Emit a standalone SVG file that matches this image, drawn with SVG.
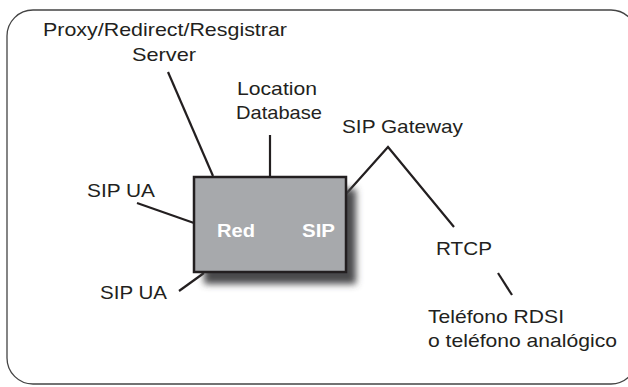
<svg xmlns="http://www.w3.org/2000/svg" width="628" height="387" viewBox="0 0 628 387">
<style>
.lbl{font-family:"Liberation Sans",Arial,sans-serif;font-size:19px;fill:#231f20}
.in{font-family:"Liberation Sans",Arial,sans-serif;font-size:18px;font-weight:bold;fill:#ffffff}
.ln{stroke:#231f20;stroke-width:2.2;fill:none;stroke-linecap:butt}
</style>
<defs>
<filter id="sh" x="-20%" y="-20%" width="140%" height="140%">
<feGaussianBlur stdDeviation="3.5"/>
</filter>
</defs>
<rect x="0" y="0" width="628" height="387" fill="#ffffff"/>
<rect id="frame" x="7" y="10" width="630" height="374" rx="26" ry="26" fill="none" stroke="#444" stroke-width="1.3"/>
<g id="connectors">
<line class="ln" x1="168" y1="72" x2="213" y2="176"/>
<line class="ln" x1="270" y1="135" x2="270" y2="177"/>
<polyline class="ln" points="346,194 388,147 454,227"/>
<line class="ln" x1="498" y1="273" x2="512" y2="295"/>
<line class="ln" x1="137" y1="203" x2="194" y2="223"/>
<line class="ln" x1="179" y1="291" x2="204" y2="273"/>
</g>
<g id="red-sip">
<rect x="204" y="189" width="152" height="95" fill="#4a4a4c" filter="url(#sh)"/>
<rect x="194" y="177" width="152" height="95" fill="#a7a9ac" stroke="#231f20" stroke-width="2.5"/>
<text class="in" x="217" y="237" textLength="38" lengthAdjust="spacingAndGlyphs">Red</text>
<text class="in" x="302" y="237" textLength="33" lengthAdjust="spacingAndGlyphs">SIP</text>
</g>
<g id="proxy">
<text class="lbl" x="43" y="36" textLength="244" lengthAdjust="spacingAndGlyphs">Proxy/Redirect/Resgistrar</text>
<text class="lbl" x="132" y="61" textLength="64" lengthAdjust="spacingAndGlyphs">Server</text>
</g>
<g id="location">
<text class="lbl" x="237" y="95" textLength="80" lengthAdjust="spacingAndGlyphs">Location</text>
<text class="lbl" x="236" y="119" textLength="86" lengthAdjust="spacingAndGlyphs">Database</text>
</g>
<g id="gateway">
<text class="lbl" x="342" y="133" textLength="121" lengthAdjust="spacingAndGlyphs">SIP Gateway</text>
</g>
<g id="rtcp">
<text class="lbl" x="436" y="255" textLength="56" lengthAdjust="spacingAndGlyphs">RTCP</text>
</g>
<g id="telefono">
<text class="lbl" x="428" y="323" textLength="136" lengthAdjust="spacingAndGlyphs">Teléfono RDSI</text>
<text class="lbl" x="428" y="347" textLength="189" lengthAdjust="spacingAndGlyphs">o teléfono analógico</text>
</g>
<g id="ua1">
<text class="lbl" x="87" y="197" textLength="68" lengthAdjust="spacingAndGlyphs">SIP UA</text>
</g>
<g id="ua2">
<text class="lbl" x="100" y="299" textLength="67" lengthAdjust="spacingAndGlyphs">SIP UA</text>
</g>
</svg>
